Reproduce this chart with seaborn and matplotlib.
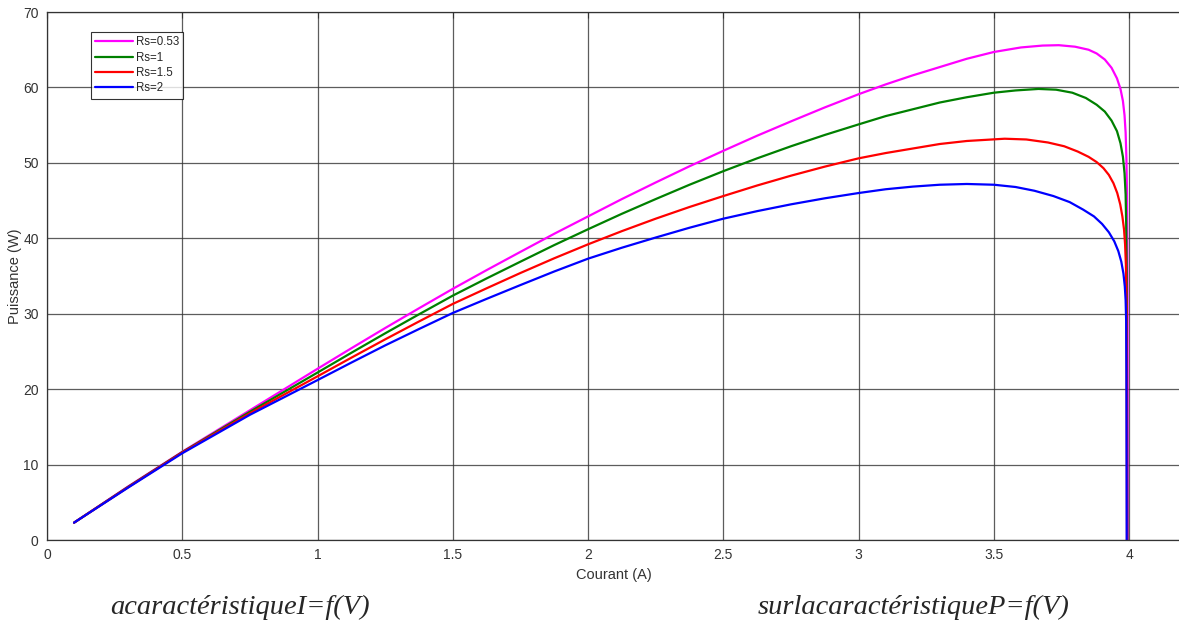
import numpy as np
import pandas as pd
import matplotlib
matplotlib.use("Agg")
import matplotlib.pyplot as plt
import seaborn as sns

# ---- data ----
labels = ["Rs=0.53", "Rs=1", "Rs=1.5", "Rs=2"]
colors = ["#ff00ff", "#008000", "#ff0000", "#0000ff"]

I_m = [0.1, 0.3, 0.5, 0.75, 1.0, 1.125, 1.25, 1.375, 1.5, 1.625, 1.75, 1.875, 2.0, 2.125, 2.25, 2.375,
       2.5, 2.625, 2.75, 2.875, 3.0, 3.1, 3.2, 3.3, 3.4, 3.5,
       3.6, 3.68, 3.74, 3.8, 3.85, 3.88, 3.91, 3.935, 3.955, 3.968, 3.977, 3.983, 3.987, 3.990,
       3.992, 3.993, 3.994, 3.995]
P_m = [2.3, 7.1, 11.7, 17.2, 22.7, 25.42, 28.1, 30.72, 33.3, 35.78, 38.2, 40.6, 42.9, 45.2, 47.4, 49.55,
       51.6, 53.6, 55.5, 57.35, 59.1, 60.4, 61.6, 62.7, 63.8, 64.7,
       65.3, 65.55, 65.6, 65.4, 65.0, 64.5, 63.7, 62.6, 61.2, 59.8, 58.2, 56.3, 54.0, 50.5,
       46.0, 40.0, 30.0, 0.0]

I_g = [0.1, 0.3, 0.5, 0.75, 1.0, 1.125, 1.25, 1.375, 1.5, 1.625, 1.75, 1.875, 2.0, 2.125, 2.25, 2.375,
       2.5, 2.625, 2.75, 2.875, 3.0, 3.1, 3.2, 3.3, 3.4, 3.5,
       3.58, 3.665, 3.73, 3.79, 3.84, 3.88, 3.91, 3.935, 3.955, 3.968, 3.977, 3.983, 3.987, 3.989,
       3.991, 3.992, 3.993]
P_g = [2.3, 7.05, 11.65, 17.0, 22.2, 24.82, 27.4, 29.92, 32.4, 34.68, 36.9, 39.1, 41.2, 43.25, 45.2, 47.1,
       48.9, 50.6, 52.2, 53.7, 55.1, 56.2, 57.1, 58.0, 58.7, 59.3,
       59.6, 59.8, 59.7, 59.3, 58.6, 57.7, 56.8, 55.6, 54.2, 52.6, 50.8, 48.6, 45.8, 42.0,
       35.0, 20.0, 0.0]

I_r = [0.1, 0.3, 0.5, 0.75, 1.0, 1.125, 1.25, 1.375, 1.5, 1.625, 1.75, 1.875, 2.0, 2.125, 2.25, 2.375,
       2.5, 2.625, 2.75, 2.875, 3.0, 3.1, 3.2, 3.3, 3.4, 3.54,
       3.62, 3.7, 3.76, 3.81, 3.85, 3.88, 3.905, 3.925, 3.942, 3.956, 3.967, 3.975, 3.981, 3.985,
       3.988, 3.990, 3.991, 3.992]
P_r = [2.3, 7.0, 11.6, 16.8, 21.7, 24.17, 26.6, 28.97, 31.3, 33.37, 35.4, 37.35, 39.2, 40.95, 42.6, 44.15,
       45.6, 47.0, 48.3, 49.5, 50.6, 51.3, 51.9, 52.5, 52.9, 53.2,
       53.1, 52.7, 52.2, 51.5, 50.8, 50.1, 49.3, 48.4, 47.3, 46.0, 44.5, 42.9, 41.2, 39.2,
       36.5, 32.0, 25.0, 0.0]

I_b = [0.1, 0.3, 0.5, 0.75, 1.0, 1.125, 1.25, 1.375, 1.5, 1.625, 1.75, 1.875, 2.0, 2.125, 2.25, 2.375,
       2.5, 2.625, 2.75, 2.875, 3.0, 3.1, 3.2, 3.3, 3.4, 3.5,
       3.58, 3.65, 3.72, 3.78, 3.83, 3.87, 3.90, 3.925, 3.945, 3.96, 3.971, 3.979, 3.984, 3.987,
       3.989, 3.990, 3.991]
P_b = [2.3, 6.95, 11.5, 16.6, 21.2, 23.52, 25.8, 27.97, 30.1, 31.97, 33.8, 35.6, 37.3, 38.75, 40.1, 41.4,
       42.6, 43.6, 44.5, 45.3, 46.0, 46.5, 46.85, 47.1, 47.2, 47.1,
       46.8, 46.3, 45.6, 44.8, 43.8, 42.9, 41.9, 40.8, 39.6, 38.3, 36.9, 35.3, 33.6, 31.8,
       29.0, 22.0, 0.0]

xticks = [0, 0.5, 1, 1.5, 2, 2.5, 3, 3.5, 4]
xtick_labels = ["0", "0.5", "1", "1.5", "2", "2.5", "3", "3.5", "4"]
yticks = [0, 10, 20, 30, 40, 50, 60, 70]

series = [(I_m, P_m), (I_g, P_g), (I_r, P_r), (I_b, P_b)]
frames = []
for lab, (xs, ys) in zip(labels, series):
    frames.append(pd.DataFrame({"I": xs, "P": ys, "Rs": lab}))
df = pd.concat(frames, ignore_index=True)

sns.set_style("white")
plt.rcParams["font.family"] = ["Liberation Sans", "DejaVu Sans"]
plt.rcParams["lines.solid_joinstyle"] = "round"

fig = plt.figure(figsize=(11.79, 6.27), dpi=100)
ax = fig.add_axes([47 / 1179, 87 / 627, 1 - 47 / 1179 + 0.002, 528 / 627])

sns.lineplot(data=df, x="I", y="P", hue="Rs", palette=colors, hue_order=labels,
             sort=False, estimator=None, linewidth=1.6, ax=ax, legend=False)

ax.set_xlim(0, 4.193)
ax.set_ylim(0, 70)
ax.set_xticks(xticks)
ax.set_xticklabels(xtick_labels)
ax.set_yticks(yticks)
ax.grid(True, color="#333333", linewidth=0.9, alpha=0.8)
ax.set_axisbelow(True)
ax.tick_params(direction="in", length=4, labelsize=10, colors="#333333",
               top=True, right=False, pad=6)
for s in ["left", "bottom", "top"]:
    ax.spines[s].set_color("#333333")
    ax.spines[s].set_linewidth(0.9)
ax.spines["right"].set_visible(False)

ax.set_xlabel("Courant (A)", fontsize=10.5, color="#333333", labelpad=4)
ax.set_ylabel("Puissance (W)", fontsize=10.5, color="#333333", labelpad=1)

handles = [plt.Line2D([], [], color=c, linewidth=1.6) for c in colors]
leg = ax.legend(handles, labels, loc="upper left", bbox_to_anchor=(0.0389, 0.962),
                fontsize=8.3, frameon=True, fancybox=False, edgecolor="#000000",
                handlelength=3.3, handletextpad=0.2, labelspacing=0.3,
                borderpad=0.35, borderaxespad=0)
leg.get_frame().set_linewidth(0.8)

fig.text(110 / 1179, 1 - 607 / 627, "acaractéristiqueI=f(V)", fontsize=20.5,
         family="Liberation Serif", style="italic", va="center", ha="left")
fig.text(758 / 1179, 1 - 607 / 627, "surlacaractéristiqueP=f(V)", fontsize=20.5,
         family="Liberation Serif", style="italic", va="center", ha="left")

fig.savefig("out.png", dpi=100)
